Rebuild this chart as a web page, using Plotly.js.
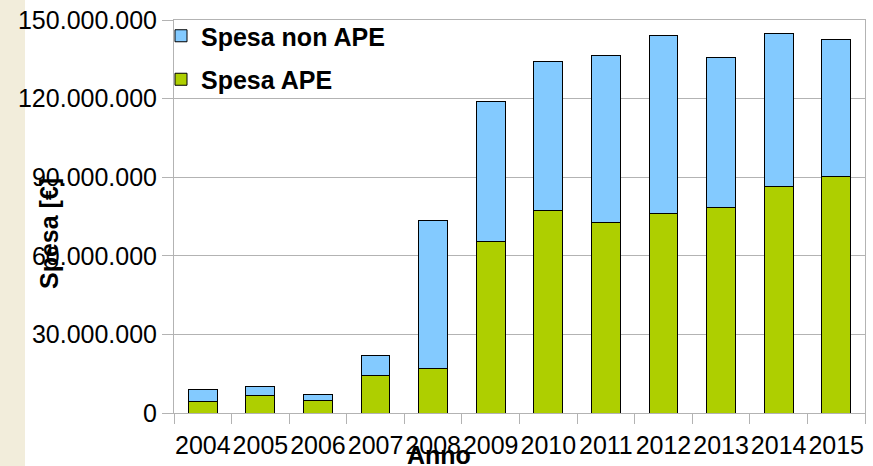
<!DOCTYPE html>
<html>
<head>
<meta charset="utf-8">
<script src="https://cdn.plot.ly/plotly-3.0.1.min.js"></script>
<style>
html, body { margin: 0; padding: 0; }
body { width: 873px; height: 466px; background: linear-gradient(to right, #f2eddb 0px, #f2eddb 25px, #ffffff 25px); }
#chart { width: 873px; height: 466px; }
</style>
</head>
<body>
<div id="chart"></div>
<script>
const years = ['2004','2005','2006','2007','2008','2009','2010','2011','2012','2013','2014','2015'];
const spesaTotale = [9.0e6, 10.0e6, 7.1e6, 22.0e6, 73.5e6, 118.8e6, 134.0e6, 136.6e6, 143.9e6, 135.8e6, 144.9e6, 142.6e6];
const spesaAPE = [4.5e6, 6.7e6, 4.6e6, 14.4e6, 17.0e6, 65.3e6, 77.4e6, 72.9e6, 76.1e6, 78.4e6, 86.4e6, 90.2e6];
const spesaNonAPE = spesaTotale.map((t, i) => t - spesaAPE[i]);
const yTicks = [0, 30e6, 60e6, 90e6, 120e6, 150e6];

const FONT = '"Liberation Sans", Arial, sans-serif';

const traces = [
  {
    type: 'bar', name: 'Spesa APE', x: years, y: spesaAPE,
    legendgroup: 'a', legendrank: 2,
    marker: { color: '#aecf00', line: { color: '#000000', width: 1 } },
    hoverinfo: 'x+y'
  },
  {
    type: 'bar', name: 'Spesa non APE', x: years, y: spesaNonAPE,
    legendgroup: 'b', legendrank: 1,
    marker: { color: '#83caff', line: { color: '#000000', width: 1 } },
    hoverinfo: 'x+y'
  }
];

const layout = {
  width: 873, height: 466,
  margin: { l: 174, r: 8, t: 20, b: 53, pad: 0 },
  paper_bgcolor: 'rgba(0,0,0,0)',
  plot_bgcolor: '#ffffff',
  separators: ',.',
  barmode: 'stack',
  bargap: 0.5,
  font: { family: FONT, size: 25, color: '#000000' },
  showlegend: true,
  legend: {
    x: -13 / 691, y: 1 + 7 / 393, xanchor: 'left', yanchor: 'top',
    traceorder: 'grouped',
    tracegroupgap: 8,
    bgcolor: 'rgba(0,0,0,0)',
    font: { family: FONT, size: 25, color: '#000000', weight: 'bold' },
    itemwidth: 30
  },
  xaxis: {
    type: 'category',
    showgrid: false,
    showline: true, linecolor: '#b3b3b3', linewidth: 1, mirror: true,
    ticks: 'outside', tickson: 'boundaries', ticklen: 10, tickcolor: '#b3b3b3', tickwidth: 1,
    tickangle: 0,
    ticklabelstandoff: 10,
    tickfont: { family: FONT, size: 25, color: '#000000' },
    zeroline: false
  },
  yaxis: {
    range: [0, 150e6],
    tickvals: yTicks,
    tickformat: ',.0f',
    showgrid: true, gridcolor: '#b3b3b3', gridwidth: 1,
    showline: true, linecolor: '#b3b3b3', linewidth: 1, mirror: true,
    ticks: 'outside', ticklen: 11, tickcolor: '#b3b3b3', tickwidth: 1,
    tickfont: { family: FONT, size: 25, color: '#000000' },
    zeroline: false
  },
  annotations: [
    {
      text: 'Spesa [€]', xref: 'paper', yref: 'paper',
      x: (49 - 174) / 691, y: (413 - 234) / 393,
      xanchor: 'center', yanchor: 'middle', textangle: -90, showarrow: false,
      font: { family: FONT, size: 25, color: '#000000', weight: 'bold' }
    },
    {
      text: 'Anno', xref: 'paper', yref: 'paper',
      x: (439 - 174) / 691, y: (413 - 455) / 393,
      xanchor: 'center', yanchor: 'middle', showarrow: false,
      font: { family: FONT, size: 25, color: '#000000', weight: 'bold' }
    }
  ]
};

Plotly.newPlot('chart', traces, layout, { displayModeBar: false, staticPlot: true });
</script>
</body>
</html>
